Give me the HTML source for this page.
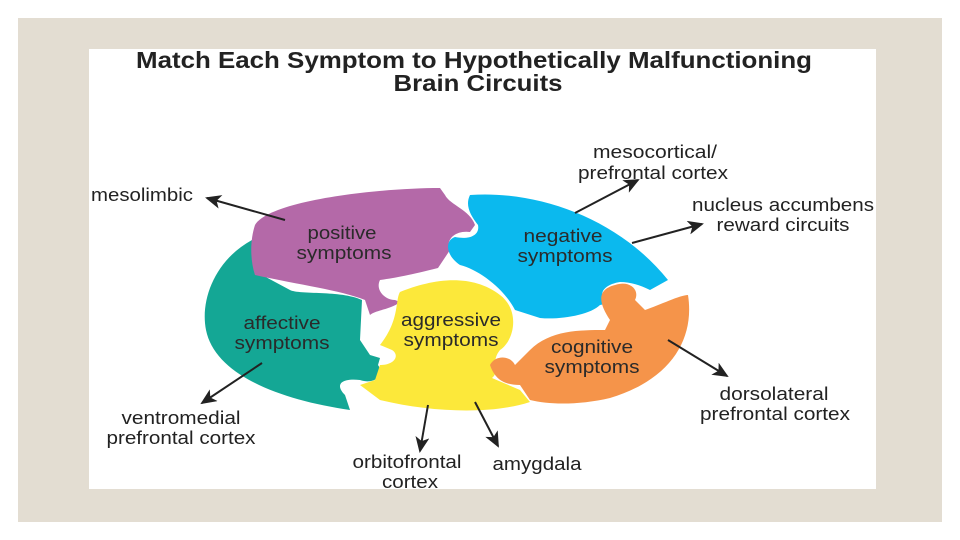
<!DOCTYPE html>
<html><head><meta charset="utf-8"><style>
body{margin:0;background:#fff;}
svg{display:block}
text{font-family:"Liberation Sans",sans-serif;}
</style></head><body>
<svg width="960" height="540" viewBox="0 0 960 540" xmlns="http://www.w3.org/2000/svg">
<rect x="0" y="0" width="960" height="540" fill="#fff"/>
<rect x="18" y="18" width="924" height="504" fill="#e3ddd2"/>
<rect x="89" y="49" width="787" height="440" fill="#fff"/>
<g font-weight="bold" font-size="23" fill="#222" text-anchor="middle">
<text x="474" y="68" textLength="676" lengthAdjust="spacingAndGlyphs">Match Each Symptom to Hypothetically Malfunctioning</text>
<text x="478" y="91" textLength="169" lengthAdjust="spacingAndGlyphs">Brain Circuits</text>
</g>
<path fill="#14a795" d="M252,240 C215,260 200,300 206,330 C215,375 280,400 350,410 L345,395 C335,385 340,378 360,380 C375,385 385,375 378,365 L380,358 L370,355 L360,340 L362,300 C340,290 300,295 290,290 L262,275 Z"/>
<path fill="#b469a8" d="M255,225 C270,200 380,188 440,188 L445,195 C450,205 470,210 475,225 L470,232 C455,230 445,240 450,250 L438,268 C410,275 395,278 380,280 C375,290 385,300 395,300 L400,302 C390,310 375,310 370,315 L365,300 C340,290 300,285 255,275 C250,260 250,240 255,225 Z"/>
<path fill="#0bb9ee" d="M470,195 C540,190 620,220 668,280 L650,290 C640,285 630,282 620,282 C600,285 595,300 615,302 L600,305 C590,315 560,320 540,318 L515,310 C505,290 480,270 460,265 C445,255 445,240 455,237 C470,240 480,235 478,225 C470,215 465,205 470,195 Z"/>
<path fill="#fce83a" d="M400,292 C430,280 470,272 500,295 C520,310 515,340 500,350 C490,362 500,372 492,378 L520,390 L530,402 C490,415 430,412 380,400 L360,385 L375,380 L380,365 C395,365 400,355 392,350 L380,345 C400,320 395,300 400,292 Z"/>
<path fill="#f5944a" d="M490,365 C495,355 510,355 515,365 L530,350 C550,330 580,330 605,330 L610,320 C600,305 595,290 615,285 C630,280 640,290 635,300 L645,310 C660,305 680,295 688,295 C695,340 670,380 610,398 C580,405 550,405 530,400 L520,385 C505,385 495,380 490,365 Z"/>
<g font-size="18.5" fill="#2a2a2a" text-anchor="middle">
<text x="342" y="239" textLength="69" lengthAdjust="spacingAndGlyphs">positive</text><text x="344" y="259" textLength="95" lengthAdjust="spacingAndGlyphs">symptoms</text>
<text x="563" y="242" textLength="79" lengthAdjust="spacingAndGlyphs">negative</text><text x="565" y="262" textLength="95" lengthAdjust="spacingAndGlyphs">symptoms</text>
<text x="282" y="329" textLength="77" lengthAdjust="spacingAndGlyphs">affective</text><text x="282" y="349" textLength="95" lengthAdjust="spacingAndGlyphs">symptoms</text>
<text x="451" y="326" textLength="100" lengthAdjust="spacingAndGlyphs">aggressive</text><text x="451" y="346" textLength="95" lengthAdjust="spacingAndGlyphs">symptoms</text>
<text x="592" y="353" textLength="82" lengthAdjust="spacingAndGlyphs">cognitive</text><text x="592" y="373" textLength="95" lengthAdjust="spacingAndGlyphs">symptoms</text>
</g>
<defs>
<marker id="b" markerWidth="16" markerHeight="14" refX="14" refY="7" orient="auto" markerUnits="userSpaceOnUse"><path d="M0,0 L16,7 L0,14 L4,7 Z" fill="#222"/></marker></defs>
<g stroke="#222" stroke-width="2" marker-end="url(#b)">
<line x1="285" y1="220" x2="207" y2="198"/>
<line x1="575" y1="213" x2="638" y2="180"/>
<line x1="632" y1="243" x2="702" y2="224"/>
<line x1="668" y1="340" x2="727" y2="376"/>
<line x1="262" y1="363" x2="202" y2="403"/>
<line x1="428" y1="405" x2="420" y2="451"/>
<line x1="475" y1="402" x2="498" y2="446"/>
</g>
<g font-size="18.5" fill="#222" text-anchor="middle">
<text x="142" y="201" textLength="102" lengthAdjust="spacingAndGlyphs">mesolimbic</text>
<text x="655" y="158" textLength="124" lengthAdjust="spacingAndGlyphs">mesocortical/</text><text x="653" y="179" textLength="150" lengthAdjust="spacingAndGlyphs">prefrontal cortex</text>
<text x="783" y="211" textLength="182" lengthAdjust="spacingAndGlyphs">nucleus accumbens</text><text x="783" y="231" textLength="133" lengthAdjust="spacingAndGlyphs">reward circuits</text>
<text x="774" y="400" textLength="109" lengthAdjust="spacingAndGlyphs">dorsolateral</text><text x="775" y="420" textLength="150" lengthAdjust="spacingAndGlyphs">prefrontal cortex</text>
<text x="181" y="424" textLength="119" lengthAdjust="spacingAndGlyphs">ventromedial</text><text x="181" y="444" textLength="149" lengthAdjust="spacingAndGlyphs">prefrontal cortex</text>
<text x="407" y="468" textLength="109" lengthAdjust="spacingAndGlyphs">orbitofrontal</text><text x="410" y="488" textLength="56" lengthAdjust="spacingAndGlyphs">cortex</text>
<text x="537" y="470" textLength="89" lengthAdjust="spacingAndGlyphs">amygdala</text>
</g>
</svg>
</body></html>
